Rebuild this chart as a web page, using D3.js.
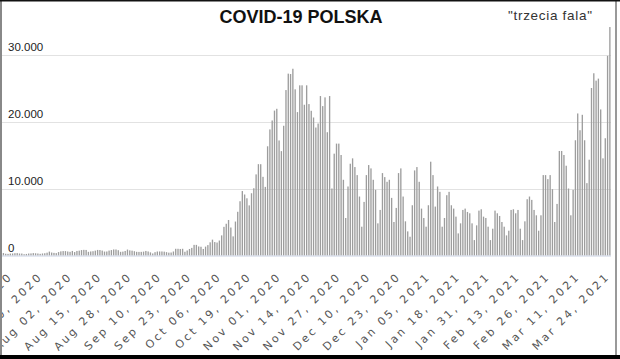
<!DOCTYPE html>
<html><head><meta charset="utf-8">
<script src="https://cdn.jsdelivr.net/npm/d3@7"></script>
<style>html,body{margin:0;padding:0;background:#fff;overflow:hidden}</style>
</head><body>
<script>
const titleText = "COVID-19 POLSKA";
const subtitleText = "\"trzecia fala\"";
const startDate = "2020-07-03";
const casesJul = [302, 366, 262, 243, 290, 299, 345, 358, 299, 292, 193, 233, 294, 310, 358, 334, 299, 249, 305, 337, 418, 584, 443, 392, 358, 512, 615, 657, 658];
const casesAug = [599, 548, 680, 512, 680, 726, 809, 843, 829, 548, 602, 639, 726, 832, 815, 735, 587, 597, 737, 811, 903, 900, 789, 547, 579, 677, 887, 767, 723, 640, 550];
const casesSep = [539, 544, 579, 679, 601, 469, 308, 497, 597, 601, 603, 575, 501, 426, 448, 600, 1002, 1002, 975, 1002, 555, 748, 973, 1136, 1587, 1584, 1350, 1306, 974, 1326];
const casesOct = [1552, 1967, 2367, 2006, 1934, 2236, 3003, 4280, 4739, 5300, 4178, 2855, 5068, 6526, 8099, 9622, 9105, 8536, 7482, 9291, 10040, 12107, 13632, 13628, 11742, 10241, 16300, 18820, 20156, 21629, 21897];
const casesNov = [17171, 15578, 19364, 24692, 27143, 27086, 27875, 24800, 21400, 25400, 25400, 22500, 25400, 22600, 21600, 20600, 19100, 19700, 23800, 22300, 23600, 18400, 23800, 10000, 15200, 16700, 16700, 15000, 11300, 5600];
const casesDec = [10300, 13700, 14500, 13200, 12000, 8800, 4300, 8000, 12000, 13500, 13000, 11300, 9800, 4800, 6800, 12300, 11700, 11000, 11300, 8600, 5000, 7100, 12300, 13000, 8800, 5100, 3600, 2800, 7500, 12700, 13200];
const casesJan = [11000, 7000, 5600, 4300, 7500, 14000, 12000, 7300, 10300, 9500, 4300, 5600, 9000, 9500, 7500, 7000, 5800, 3300, 4800, 6800, 7000, 6500, 6300, 4800, 2300, 4500, 6700, 6900, 5800, 5600, 4300];
const casesFeb = [2300, 4000, 6700, 6300, 5900, 5000, 4300, 3000, 3700, 6800, 6900, 6300, 6800, 4000, 2300, 5100, 8400, 8800, 8300, 6800, 6000, 3700, 6000, 12000, 12000, 11400, 12000, 9900];
const casesMar = [5000, 7700, 15600, 15600, 15000, 13400, 10000, 6000, 9800, 17200, 21200, 18700, 21000, 17200, 10800, 14300, 25000, 27200, 26100, 26400, 21800, 14500, 17500, 29800, 34100];
const yTicks = [0, 10000, 20000, 30000];
const tickLabels = ["Jul 07, 2020","Jul 20, 2020","Aug 02, 2020","Aug 15, 2020","Aug 28, 2020","Sep 10, 2020","Sep 23, 2020","Oct 06, 2020","Oct 19, 2020","Nov 01, 2020","Nov 14, 2020","Nov 27, 2020","Dec 10, 2020","Dec 23, 2020","Jan 05, 2021","Jan 18, 2021","Jan 31, 2021","Feb 13, 2021","Feb 26, 2021","Mar 11, 2021","Mar 24, 2021"];

const values = [].concat(casesJul, casesAug, casesSep, casesOct, casesNov, casesDec, casesJan, casesFeb, casesMar);
const parse = d3.utcParse("%Y-%m-%d");
const fmtKey = d3.utcFormat("%Y-%m-%d");
const start = parse(startDate);
const data = values.map((v, i) => ({ date: d3.utcDay.offset(start, i), value: v }));
data.forEach(d => d.key = fmtKey(d.date));

const W = 620, H = 359;
const svg = d3.select("body").append("svg").attr("width", W).attr("height", H)
  .style("font-family", "'Liberation Sans', Arial, sans-serif");

const x = d3.scaleBand().domain(data.map(d => d.key)).range([0, 611]).paddingInner(0.42).paddingOuter(0.2);
const y = d3.scaleLinear().domain([0, 30000]).range([255.5, 54.5]);
const locale = d3.formatLocale({ decimal: ",", thousands: ".", grouping: [3], currency: ["", ""] });
const fmtY = locale.format(",d");

// gridlines
svg.append("g").selectAll("line").data(yTicks.filter(t => t > 0)).join("line")
  .attr("x1", 2).attr("x2", 611)
  .attr("y1", d => Math.round(y(d)) + 0.5).attr("y2", d => Math.round(y(d)) + 0.5)
  .attr("stroke", "#e2e2e2").attr("stroke-width", 1);

// bars
svg.append("g").selectAll("rect").data(data).join("rect")
  .attr("x", d => x(d.key)).attr("width", x.bandwidth())
  .attr("y", d => y(d.value)).attr("height", d => y(0) - y(d.value))
  .attr("fill", "#9d9d9d");

// baseline
svg.append("line").attr("x1", 2).attr("x2", 611).attr("y1", y(0) + 0.5).attr("y2", y(0) + 0.5)
  .attr("stroke", "#c9d1e3").attr("stroke-width", 1);

// y labels
svg.append("g").selectAll("text").data(yTicks).join("text")
  .attr("x", 8).attr("y", d => y(d) - 4)
  .attr("font-size", 11.5).attr("fill", "#222")
  .text(d => fmtY(d));

// x labels
const tickKeys = tickLabels.map(t => fmtKey(d3.utcParse("%b %d, %Y")(t)));
svg.append("g").selectAll("text").data(tickLabels).join("text")
  .attr("transform", (t, i) => `translate(${x(tickKeys[i]) + x.bandwidth() / 2 + 3},277) rotate(-45)`)
  .attr("text-anchor", "end")
  .attr("font-family", "'DejaVu Sans', Verdana, sans-serif")
  .attr("font-size", 11).attr("letter-spacing", 2.6).attr("fill", "#555")
  .text(t => t);

// title
svg.append("text").attr("x", 301).attr("y", 23).attr("text-anchor", "middle")
  .attr("font-size", 18).attr("font-weight", "bold").attr("fill", "#111").text(titleText);
svg.append("text").attr("x", 508).attr("y", 20)
  .attr("font-size", 13.5).attr("letter-spacing", 0.7).attr("fill", "#333").text(subtitleText);

// frame
svg.append("rect").attr("x", 0).attr("y", 0).attr("width", 2).attr("height", H).attr("fill", "#888");
svg.append("rect").attr("x", 615).attr("y", 0).attr("width", 2).attr("height", H).attr("fill", "#999");
svg.append("rect").attr("x", 0).attr("y", 0).attr("width", W).attr("height", 1.5).attr("fill", "#111");
svg.append("rect").attr("x", 0).attr("y", 355).attr("width", W).attr("height", 4).attr("fill", "#000");
</script>
</body></html>
